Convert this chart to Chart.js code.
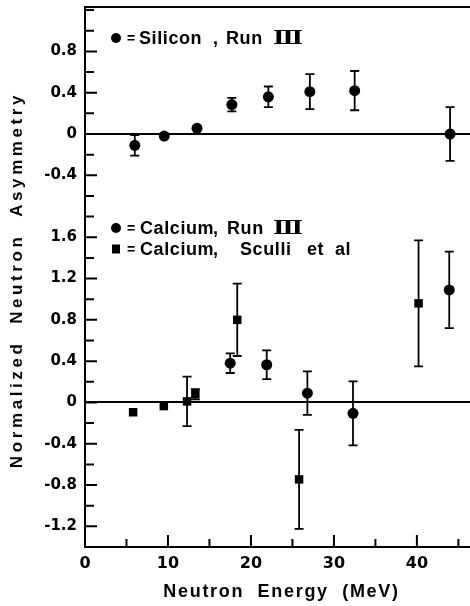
<!DOCTYPE html>
<html>
<head>
<meta charset="utf-8">
<script src="https://cdn.jsdelivr.net/npm/chart.js@4.4.0/dist/chart.umd.min.js"></script>
<style>
  body { margin: 0; background: #fff; }
  #wrap { width: 470px; height: 606px; }
</style>
</head>
<body>
<div id="wrap"><canvas id="asymChart" width="470" height="606"></canvas></div>
<script>
// silicon panel sits on the same y axis, lifted by this many units
const PANEL_SHIFT = 2.6;

// Silicon, Run III
const siliconEnergy = [6.0, 9.55, 13.5, 17.7, 22.1, 27.1, 32.5, 44.0];
const siliconAsym   = [-0.11, -0.02, 0.055, 0.285, 0.36, 0.41, 0.42, 0.0];
const siliconErr    = [0.10, 0, 0.02, 0.065, 0.10, 0.17, 0.19, 0.26];

// Calcium, Run III
const calciumEnergy = [17.5, 21.9, 26.8, 32.3, 43.9];
const calciumAsym   = [0.38, 0.365, 0.09, -0.105, 1.09];
const calciumErr    = [0.095, 0.14, 0.21, 0.31, 0.37];

// Calcium, Sculli et al
const sculliEnergy = [5.8, 9.5, 12.3, 13.3, 18.35, 25.8, 40.2];
const sculliAsym   = [-0.095, -0.035, 0.01, 0.08, 0.80, -0.745, 0.96];
const sculliErr    = [0, 0, 0.24, 0.05, 0.35, 0.48, 0.61];

const lowerTickLabels  = ['-1.2', '-0.8', '-0.4', '0', '0.4', '0.8', '1.2', '1.6'];
const upperTickLabels  = ['-0.4', '0', '0.4', '0.8'];
const energyTickLabels = ['0', '10', '20', '30', '40'];

const near = (a, b) => Math.abs(a - b) < 1e-6;
const toPoints = (xs, ys, shift) => xs.map((x, i) => ({ x: x, y: ys[i] + shift }));

function yLabel(v) {
  if (v < 1.9) return lowerTickLabels.find(s => near(+s, v)) || '';
  return upperTickLabels.find(s => near(+s, v - PANEL_SHIFT)) || '';
}

const KEY_FONT = 'bold 18px "Liberation Sans", "DejaVu Sans", sans-serif';
const EQ_FONT = 'bold 14px "Liberation Sans", sans-serif';
const NUMERAL_FONT = 'bold 19px "DejaVu Serif", serif';

// key rows: marker shape, row y, then [text, x offset from plot left]
const keyRows = [
  { shape: 'circle', y: 38,  parts: [['=', 42], ['Silicon', 54], [',', 128], ['Run', 141], ['Ⅲ', 188]] },
  { shape: 'circle', y: 228, parts: [['=', 42], ['Calcium', 55], [',', 128], ['Run', 142], ['Ⅲ', 188]] },
  { shape: 'rect',   y: 249, parts: [['=', 42], ['Calcium', 55], [',', 128], ['Sculli', 155], ['et', 222], ['al', 250]] }
];

// error bars, inward ticks, top frame line, key and axis titles
const decorations = {
  id: 'decorations',
  beforeDatasetsDraw(chart) {
    const ctx = chart.ctx, ys = chart.scales.y;
    ctx.save();
    ctx.strokeStyle = '#000';
    chart.data.datasets.forEach((ds, i) => {
      const meta = chart.getDatasetMeta(i);
      ds.errors.forEach((err, j) => {
        if (!err) return;
        const px = meta.data[j].x, v = ds.data[j].y;
        const top = ys.getPixelForValue(v + err), bot = ys.getPixelForValue(v - err);
        ctx.lineWidth = 1.8;
        ctx.beginPath();
        ctx.moveTo(px, top); ctx.lineTo(px, bot);
        ctx.moveTo(px - 4.5, top); ctx.lineTo(px + 4.5, top);
        ctx.moveTo(px - 4.5, bot); ctx.lineTo(px + 4.5, bot);
        ctx.stroke();
      });
    });
    ctx.restore();
  },
  afterDraw(chart) {
    const ctx = chart.ctx, ca = chart.chartArea;
    const xs = chart.scales.x, ys = chart.scales.y;
    ctx.save();
    ctx.strokeStyle = '#000';
    ctx.fillStyle = '#000';
    ctx.lineWidth = 2;

    ctx.beginPath();
    ys.ticks.forEach(t => {
      const py = ys.getPixelForValue(t.value);
      ctx.moveTo(ca.left, py); ctx.lineTo(ca.left + (t.label ? 12 : 9), py);
    });
    xs.ticks.forEach(t => {
      const px = xs.getPixelForValue(t.value);
      ctx.moveTo(px, ca.bottom); ctx.lineTo(px, ca.bottom - (t.label ? 12 : 8));
    });
    ctx.moveTo(ca.left - 1, ca.top); ctx.lineTo(ca.right, ca.top);
    ctx.stroke();

    // key
    ctx.textBaseline = 'middle';
    ctx.letterSpacing = '0.6px';
    keyRows.forEach(k => {
      const mx = ca.left + 31;
      ctx.beginPath();
      if (k.shape === 'circle') ctx.arc(mx, k.y, 5, 0, Math.PI * 2);
      else ctx.rect(mx - 4, k.y - 4.5, 8, 9);
      ctx.fill();
      k.parts.forEach(([txt, dx]) => {
        if (txt === 'Ⅲ') {
          // the numeral is set wide, with heavy top and bottom bars
          ctx.save();
          ctx.font = NUMERAL_FONT;
          ctx.translate(ca.left + dx, k.y + 1);
          ctx.scale(1.3, 1);
          ctx.fillText(txt, 0, 0);
          ctx.restore();
        } else {
          ctx.font = txt === '=' ? EQ_FONT : KEY_FONT;
          ctx.fillText(txt, ca.left + dx, k.y + 1);
        }
      });
    });

    // axis titles
    ctx.font = KEY_FONT;
    ctx.textAlign = 'center';
    ctx.letterSpacing = '1.7px';
    ctx.fillText('Neutron  Energy  (MeV)', (ca.left + ca.right) / 2 + 4, 592);
    ctx.translate(17, (ca.top + ca.bottom) / 2 + 3);
    ctx.rotate(-Math.PI / 2);
    ctx.font = 'bold 17px "Liberation Sans", "DejaVu Sans", sans-serif';
    ctx.letterSpacing = '3.6px';
    ctx.fillText('Normalized  Neutron  Asymmetry', 0, 0);
    ctx.restore();
  }
};

new Chart(document.getElementById('asymChart'), {
  type: 'scatter',
  data: {
    datasets: [
      {
        label: 'Silicon, Run III',
        data: toPoints(siliconEnergy, siliconAsym, PANEL_SHIFT),
        errors: siliconErr,
        pointStyle: 'circle', pointRadius: 5.5,
        backgroundColor: '#000', borderWidth: 0
      },
      {
        label: 'Calcium, Run III',
        data: toPoints(calciumEnergy, calciumAsym, 0),
        errors: calciumErr,
        pointStyle: 'circle', pointRadius: 5.5,
        backgroundColor: '#000', borderWidth: 0
      },
      {
        label: 'Calcium, Sculli et al',
        data: toPoints(sculliEnergy, sculliAsym, 0),
        errors: sculliErr,
        pointStyle: 'rect', pointRadius: 6,
        backgroundColor: '#000', borderWidth: 0
      }
    ]
  },
  options: {
    responsive: false,
    animation: false,
    layout: { autoPadding: false, padding: { top: 7, left: 0, right: 0, bottom: 0 } },
    plugins: { legend: { display: false }, tooltip: { enabled: false } },
    scales: {
      x: {
        type: 'linear',
        min: 0, max: 46.4,
        afterFit: s => { s.height = 59; s.paddingLeft = 0; s.paddingRight = 0; },
        border: { color: '#000', width: 2 },
        grid: { drawOnChartArea: false, drawTicks: false },
        ticks: {
          stepSize: 5, includeBounds: false, autoSkip: false, maxRotation: 0,
          padding: 7, color: '#000',
          font: { family: '"DejaVu Sans"', size: 16, weight: 'bold' },
          callback: v => energyTickLabels.find(s => near(+s, v)) || ''
        }
      },
      y: {
        min: -1.4, max: 3.83,
        afterFit: s => { s.width = 85; s.paddingTop = 0; s.paddingBottom = 0; },
        border: { color: '#000', width: 2 },
        grid: {
          drawTicks: false, lineWidth: 2,
          color: c => c.tick && (near(c.tick.value, 0) || near(c.tick.value, PANEL_SHIFT)) ? '#000' : 'rgba(0,0,0,0)'
        },
        ticks: {
          stepSize: 0.2, includeBounds: false, autoSkip: false,
          padding: 8, color: '#000',
          font: { family: '"DejaVu Sans"', size: 15, weight: 'bold' },
          callback: v => yLabel(v)
        }
      }
    }
  },
  plugins: [decorations]
});
</script>
</body>
</html>
